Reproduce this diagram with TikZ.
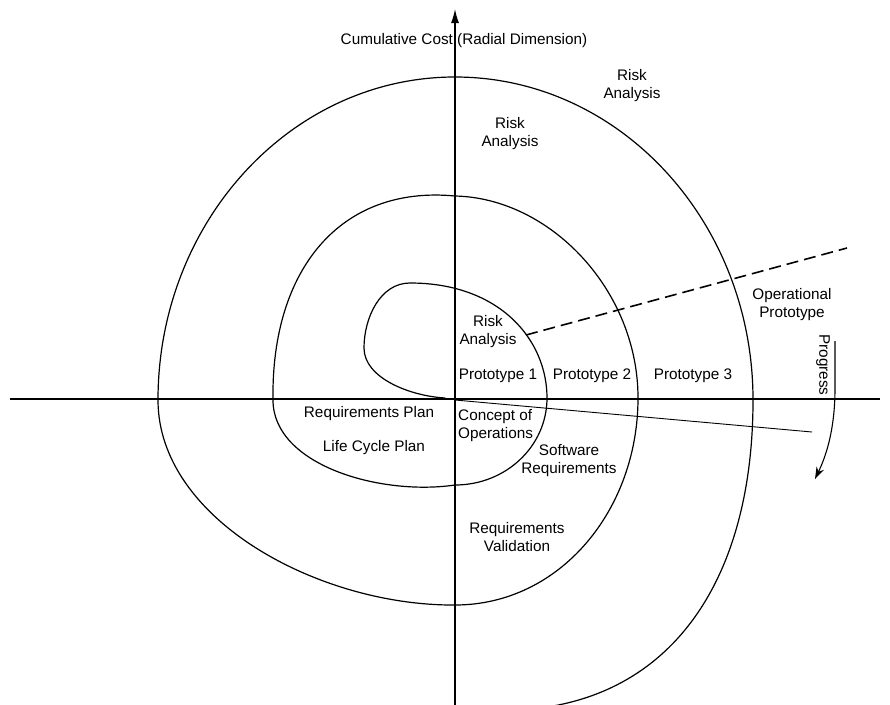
\documentclass[tikz,border=0pt]{standalone}
\usepackage{fontspec}
\setmainfont{Liberation Sans}
\usetikzlibrary{arrows.meta}
\begin{document}
\begin{tikzpicture}[x=1pt,y=-1pt,
  lbl/.style={inner sep=0pt, align=center, font=\fontsize{15.3}{18}\selectfont},
  spiralline/.style={line width=1.2pt, line join=round, line cap=round},
  axisline/.style={line width=1.3pt},
  thinline/.style={line width=0.9pt},
  dashline/.style={line width=1.6pt, dash pattern=on 12pt off 6pt}]
\clip (0,0) rectangle (890,704);
\fill[white] (0,0) rectangle (890,704);
% axes
\coordinate (vbot) at (455,706);
\coordinate (vtop) at (455,9);
\coordinate (hl) at (10,399);
\coordinate (hr) at (880,399);
\draw[axisline,-{Latex[length=14pt,width=8pt]}] (vbot) -- (vtop);
\draw[axisline] (hl) -- (hr);
% spiral
\coordinate (s0) at (445,398);
\coordinate (sEnd) at (540,708);
\draw[spiralline] (s0)
  .. controls (410,396) and (364,378) .. (364,348)
  .. controls (364,318) and (380,283) .. (410,283)
  .. controls (500,283) and (547,340) .. (547,398)
  .. controls (547,446) and (506,485) .. (455,485)
  .. controls (380,496) and (273,465) .. (273,400)
  .. controls (271,270) and (340,185) .. (455,196)
  .. controls (550,198) and (638,290) .. (638,398)
  .. controls (638,510) and (560,605) .. (455,605)
  .. controls (320,606) and (158,520) .. (158,400)
  .. controls (158,222) and (291,77) .. (455,77)
  .. controls (620,77) and (753,222) .. (753,400)
  .. controls (753,570) and (680,690) .. (sEnd);
% dashed and solid radial lines
\coordinate (dA) at (526,335);
\coordinate (dB) at (847,248);
\draw[dashline] (dA) -- (dB);
\coordinate (sA) at (455,400);
\coordinate (sB) at (812,432);
\draw[thinline] (sA) -- (sB);
% progress arrow
\coordinate (pA) at (835,341);
\coordinate (pB) at (835,388);
\coordinate (pC) at (815,479);
\draw[line width=1.1pt,-{Stealth[length=12pt,width=8pt]}] (pA) -- (pB) .. controls (835,425) and (828,452) .. (pC);
% labels
\node[lbl] (cum) at (464,41) {Cumulative Cost (Radial Dimension)};
\node[lbl] (ra1) at (632,86) {Risk\\Analysis};
\node[lbl] (ra2) at (510,134) {Risk\\Analysis};
\node[lbl] (ra3) at (488,332) {Risk\\Analysis};
\node[lbl] (pt1) at (498,376) {Prototype 1};
\node[lbl] (pt2) at (592,376) {Prototype 2};
\node[lbl] (pt3) at (693,376) {Prototype 3};
\node[lbl] (op) at (792,305) {Operational\\Prototype};
\node[lbl] (rp) at (369,414) {Requirements Plan};
\node[lbl] (lcp) at (374,448) {Life Cycle Plan};
\node[lbl, align=left, anchor=west] (co) at (458,426) {Concept of\\Operations};
\node[lbl] (sr) at (569,461) {Software\\Requirements};
\node[lbl] (rv) at (517,537) {Requirements\\Validation};
\node[lbl, rotate=-90] (prog) at (823,365) {Progress};
\end{tikzpicture}
\end{document}
